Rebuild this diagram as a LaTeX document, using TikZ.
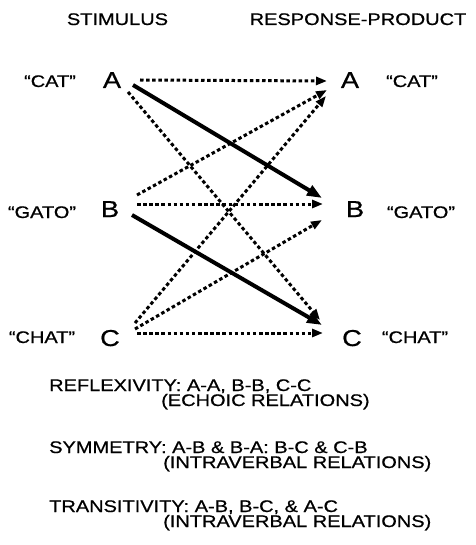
\documentclass[tikz,border=0pt]{standalone}
\usepackage{fontspec}
\setmainfont{Liberation Sans}[FakeStretch=1.19,FakeBold=0.7]
\usetikzlibrary{arrows.meta,calc}
\tikzset{
  lbl/.style={inner sep=0pt, anchor=base, font=\fontsize{16.8}{16.8}\selectfont},
  head/.style={inner sep=0pt, anchor=base, font=\fontsize{16.8}{16.8}\selectfont},
  letter/.style={inner sep=0pt, anchor=base, font=\fontsize{23}{23}\selectfont},
  note/.style={inner sep=0pt, anchor=base west, font=\fontsize{16.8}{16.8}\selectfont},
  dotarrow/.style={line width=3pt, dash pattern=on 3.5pt off 2.6pt, -{Triangle[length=11pt,width=8pt]}},
  solidarrow/.style={line width=4pt, -{Triangle[length=15pt,width=11pt]}}
}
\begin{document}
\begin{tikzpicture}[x=1pt,y=-1pt]
\useasboundingbox (0,0) rectangle (475,545);
% headings
\node[head] (hs) at (117.5,25) {STIMULUS};
\node[head] (hr) at (358,25) {RESPONSE-PRODUCT};
% words
\node[lbl] (wa1) at (50,87) {“CAT”};
\node[lbl] (wa2) at (412,87) {“CAT”};
\node[lbl] (wb1) at (42,218) {“GATO”};
\node[lbl] (wb2) at (421,218) {“GATO”};
\node[lbl] (wc1) at (42,343) {“CHAT”};
\node[lbl] (wc2) at (415,343) {“CHAT”};
% letters
\node[letter] (A1) at (112,88) {A};
\node[letter] (B1) at (110,217) {B};
\node[letter] (C1) at (110,346) {C};
\node[letter] (A2) at (350,88) {A};
\node[letter] (B2) at (355,217) {B};
\node[letter] (C2) at (352,346) {C};
% connectors
\draw[dotarrow] ($(A1.base)+(28,-8)$) -- ($(A2.base)+(-23,-7)$);
\draw[dotarrow] ($(A1.base)+(16,4)$) -- ($(C2.base)+(-32,-26)$);
\draw[dotarrow] ($(B1.base)+(27,-22)$) -- ($(A2.base)+(-23,2)$);
\draw[dotarrow] ($(B1.base)+(27,-13)$) -- ($(B2.base)+(-32,-13)$);
\draw[dotarrow] ($(C1.base)+(25,-23)$) -- ($(A2.base)+(-24,8)$);
\draw[dotarrow] ($(C1.base)+(25,-17)$) -- ($(B2.base)+(-33,3)$);
\draw[dotarrow] ($(C1.base)+(27,-13)$) -- ($(C2.base)+(-29,-13)$);
\draw[solidarrow] ($(A1.base)+(21,-3)$) -- ($(B2.base)+(-33,-19)$);
\draw[solidarrow] ($(B1.base)+(22,-2)$) -- ($(C2.base)+(-30,-21)$);
% notes
\node[note] (n1) at (49,391) {REFLEXIVITY: A-A, B-B, C-C};
\node[note] (n2) at (161,406) {(ECHOIC RELATIONS)};
\node[note] (n3) at (49,453) {SYMMETRY: A-B \& B-A: B-C \& C-B};
\node[note] (n4) at (163,468) {(INTRAVERBAL RELATIONS)};
\node[note] (n5) at (49,512) {TRANSITIVITY: A-B, B-C, \& A-C};
\node[note] (n6) at (163,527) {(INTRAVERBAL RELATIONS)};
\end{tikzpicture}
\end{document}
